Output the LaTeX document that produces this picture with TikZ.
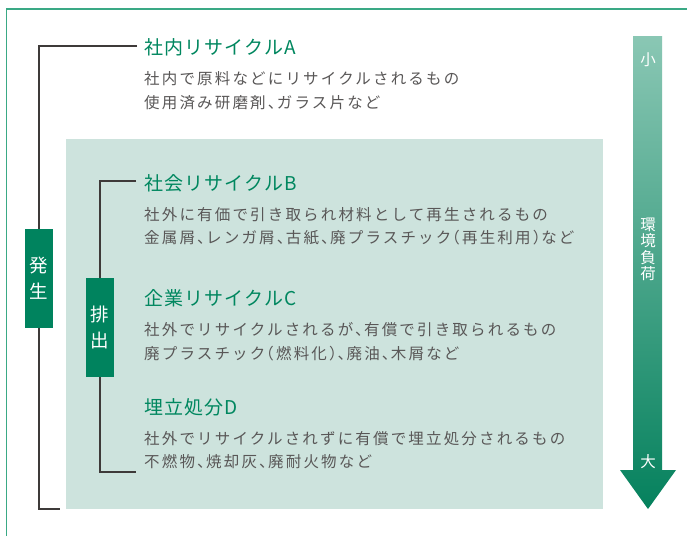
\documentclass[tikz,border=0pt]{standalone}
\usepackage{fontspec}
\newfontfamily\jp{Noto Sans CJK JP}
\newfontfamily\jpbody[LetterSpace=14]{Noto Sans CJK JP}
\newfontfamily\jptitle[LetterSpace=6]{Noto Sans CJK JP}
\definecolor{framecol}{HTML}{3AA985}
\definecolor{titlegreen}{HTML}{00875F}
\definecolor{boxgreen}{HTML}{00835E}
\definecolor{bgteal}{HTML}{CDE3DD}
\definecolor{bodygray}{HTML}{595757}
\definecolor{brcol}{HTML}{3E3A39}
\definecolor{arrtop}{HTML}{8AC7B4}
\definecolor{arrbot}{HTML}{05815D}
\newcommand\tou{、\kern-0.42em}
\newcommand\lpar{\kern-0.45em（}
\newcommand\rpar{）\kern-0.45em}
\begin{document}
\begin{tikzpicture}[x=1pt,y=-1pt,
  titletext/.style={anchor=base west, inner sep=0pt, text=titlegreen, font=\jptitle\fontsize{19}{20}\selectfont},
  bodytext/.style={anchor=base west, inner sep=0pt, text=bodygray, font=\jpbody\fontsize{15.5}{18}\selectfont},
  br/.style={draw=brcol, line width=1.1pt},
  vbox/.style={fill=boxgreen, text=white, minimum width=28pt, minimum height=99pt, inner sep=0pt, align=center, font=\jp\fontsize{18.5}{26}\selectfont},
  alabel/.style={inner sep=0pt, text=white, font=\jp\fontsize{15.5}{17}\selectfont}]
\useasboundingbox (0,0) rectangle (687,536);
\fill[white] (0,0) rectangle (687,536);
% frame
\draw[framecol, line width=1.2pt] (6.5,536) -- (6.5,9) -- (687,9);
% teal background
\fill[bgteal] (66,139) rectangle (603,509);
% boxes
\node[vbox] (hassei) at (39,278.5) {発\\生};
\node[vbox] (haishutsu) at (100,327.5) {排\\出};
% bracket end points
\coordinate (gA) at (137,46);
\coordinate (gEnd) at (60,509);
\coordinate (eB) at (136,181);
\coordinate (eD) at (136,472);
\draw[br] (gA) -| (hassei.north);
\draw[br] (hassei.south) |- (gEnd);
\draw[br] (eB) -| (haishutsu.north);
\draw[br] (haishutsu.south) |- (eD);
% texts
\node[titletext] (tA) at (144,54.9) {社内リサイクルA};
\node[bodytext] (a1) at (144,84.6) {社内で原料などにリサイクルされるもの};
\node[bodytext] (a2) at (144,108.1) {使用済み研磨剤\tou ガラス片など};
\node[titletext] (tB) at (144,190.4) {社会リサイクルB};
\node[bodytext] (b1) at (144,220.1) {社外に有価で引き取られ材料として再生されるもの};
\node[bodytext] (b2) at (144,243.6) {金属屑\tou レンガ屑\tou 古紙\tou 廃プラスチック\lpar 再生利用\rpar など};
\node[titletext] (tC) at (144,305.9) {企業リサイクルC};
\node[bodytext] (c1) at (144,335.6) {社外でリサイクルされるが\tou 有償で引き取られるもの};
\node[bodytext] (c2) at (144,359.1) {廃プラスチック\lpar 燃料化\rpar\tou 廃油\tou 木屑など};
\node[titletext] (tD) at (144,414.4) {埋立処分D};
\node[bodytext] (d1) at (144,444.1) {社外でリサイクルされずに有償で埋立処分されるもの};
\node[bodytext] (d2) at (144,467.6) {不燃物\tou 焼却灰\tou 廃耐火物など};
% arrow
\shade[top color=arrtop, bottom color=arrbot] (633,36) -- (662,36) -- (662,470) -- (676,470) -- (648,509) -- (620,470) -- (633,470) -- cycle;
\node[alabel] (small) at (648,59.5) {小};
\node[alabel] (k1) at (648,224.5) {環};
\node[alabel] (k2) at (648,241) {境};
\node[alabel] (k3) at (648,257.5) {負};
\node[alabel] (k4) at (648,274) {荷};
\node[alabel] (big) at (648,461.5) {大};
\end{tikzpicture}
\end{document}
